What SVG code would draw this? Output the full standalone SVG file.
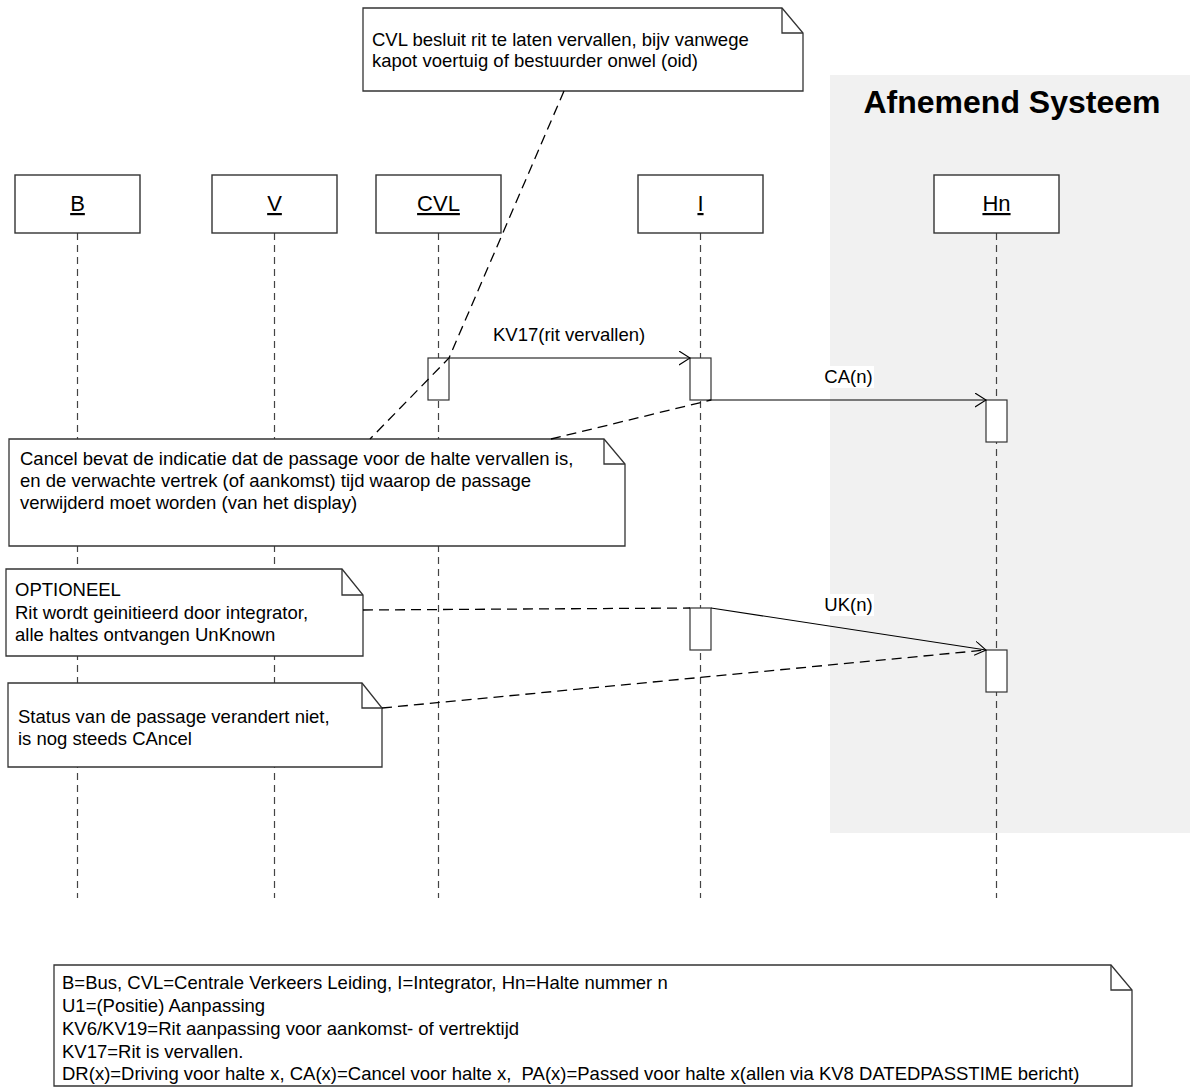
<svg xmlns="http://www.w3.org/2000/svg" width="1190" height="1092" viewBox="0 0 1190 1092">
<defs>
<style>
text{font-family:"Liberation Sans",Arial,sans-serif;fill:#000}
.t{font-size:18.5px}
.lbl{font-size:22px;text-decoration:underline}
.big{font-size:32px;font-weight:bold}
.box{fill:#fff;stroke:#333;stroke-width:1.4}
.note{fill:#fff;stroke:#333;stroke-width:1.3}
.fold{fill:none;stroke:#333;stroke-width:1.3}
.act{fill:#fff;stroke:#333;stroke-width:1.2}
.life{stroke:#444;stroke-width:1.2;stroke-dasharray:7 5;fill:none}
.msg{stroke:#000;stroke-width:1.1;fill:none}
.anc{stroke:#000;stroke-width:1.3;stroke-dasharray:10 6;fill:none}
</style>
<marker id="arr" markerUnits="userSpaceOnUse" markerWidth="14" markerHeight="16" refX="11" refY="7" orient="auto">
<path d="M0,0 L11,7 L0,14" fill="none" stroke="#000" stroke-width="1.1"/>
</marker>
</defs>
<rect width="1190" height="1092" fill="#fff"/>
<g id="afnemend-systeem">
<rect x="830" y="75" width="360" height="758" fill="#f1f1f1"/>
<text class="big" x="1012" y="113" text-anchor="middle">Afnemend Systeem</text>
</g>
<g id="lifelines">
<line class="life" x1="77.5" y1="233" x2="77.5" y2="898"/>
<line class="life" x1="274.5" y1="233" x2="274.5" y2="898"/>
<line class="life" x1="438.5" y1="233" x2="438.5" y2="898"/>
<line class="life" x1="700.5" y1="233" x2="700.5" y2="898"/>
<line class="life" x1="996.5" y1="233" x2="996.5" y2="898"/>
</g>
<g id="B"><rect class="box" x="15" y="175" width="125" height="58"/><text class="lbl" x="77.5" y="211" text-anchor="middle">B</text></g>
<g id="V"><rect class="box" x="212" y="175" width="125" height="58"/><text class="lbl" x="274.5" y="211" text-anchor="middle">V</text></g>
<g id="CVL"><rect class="box" x="376" y="175" width="125" height="58"/><text class="lbl" x="438.5" y="211" text-anchor="middle">CVL</text></g>
<g id="I"><rect class="box" x="638" y="175" width="125" height="58"/><text class="lbl" x="700.5" y="211" text-anchor="middle">I</text></g>
<g id="Hn"><rect class="box" x="934" y="175" width="125" height="58"/><text class="lbl" x="996.5" y="211" text-anchor="middle">Hn</text></g>
<g id="activations">
<rect class="act" x="428" y="358" width="21" height="42"/>
<rect class="act" x="690" y="358" width="21" height="42"/>
<rect class="act" x="986" y="400" width="21" height="42"/>
<rect class="act" x="690" y="608" width="21" height="42"/>
<rect class="act" x="986" y="650" width="21" height="42"/>
</g>
<g id="note-cvl">
<path class="note" d="M363,8 H782 L803,33 V91 H363 Z"/>
<path class="fold" d="M782,8 V33 H803"/>
<text class="t" x="372" y="46">CVL besluit rit te laten vervallen, bijv vanwege</text>
<text class="t" x="372" y="67">kapot voertuig of bestuurder onwel (oid)</text>
</g>
<g id="note-cancel">
<path class="note" d="M9,439 H604 L625,464 V546 H9 Z"/>
<path class="fold" d="M604,439 V464 H625"/>
<text class="t" x="20" y="465">Cancel bevat de indicatie dat de passage voor de halte vervallen is,</text>
<text class="t" x="20" y="487">en de verwachte vertrek (of aankomst) tijd waarop de passage</text>
<text class="t" x="20" y="509">verwijderd moet worden (van het display)</text>
</g>
<g id="note-optioneel">
<path class="note" d="M6,569 H342 L363,595 V656 H6 Z"/>
<path class="fold" d="M342,569 V595 H363"/>
<text class="t" x="15" y="596">OPTIONEEL</text>
<text class="t" x="15" y="618.5">Rit wordt geinitieerd door integrator,</text>
<text class="t" x="15" y="641">alle haltes ontvangen UnKnown</text>
</g>
<g id="note-status">
<path class="note" d="M8,683 H362 L382,708 V767 H8 Z"/>
<path class="fold" d="M362,683 V708 H382"/>
<text class="t" x="18" y="723">Status van de passage verandert niet,</text>
<text class="t" x="18" y="745">is nog steeds CAncel</text>
</g>
<g id="legend">
<path class="note" d="M54,965 H1111 L1132,990 V1086 H54 Z"/>
<path class="fold" d="M1111,965 V990 H1132"/>
<text class="t" x="62" y="989">B=Bus, CVL=Centrale Verkeers Leiding, I=Integrator, Hn=Halte nummer n</text>
<text class="t" x="62" y="1012">U1=(Positie) Aanpassing</text>
<text class="t" x="62" y="1035">KV6/KV19=Rit aanpassing voor aankomst- of vertrektijd</text>
<text class="t" x="62" y="1058">KV17=Rit is vervallen.</text>
<text class="t" x="62" y="1080" xml:space="preserve">DR(x)=Driving voor halte x, CA(x)=Cancel voor halte x,  PA(x)=Passed voor halte x(allen via KV8 DATEDPASSTIME bericht)</text>
</g>
<g id="connectors">
<line class="msg" x1="449" y1="358" x2="690" y2="358" marker-end="url(#arr)"/>
<text class="t" x="493" y="341">KV17(rit vervallen)</text>
<line class="msg" x1="711" y1="400" x2="986" y2="400" marker-end="url(#arr)"/>
<rect x="823" y="366" width="51" height="22" fill="#fff"/>
<text class="t" x="848.5" y="383" text-anchor="middle">CA(n)</text>
<line class="msg" x1="711" y1="608" x2="986" y2="650" marker-end="url(#arr)"/>
<rect x="823" y="594" width="51" height="22" fill="#fff"/>
<text class="t" x="848.5" y="611" text-anchor="middle">UK(n)</text>
<polyline class="anc" points="564,91 449,358 370,439"/>
<line class="anc" x1="551" y1="439" x2="711" y2="400"/>
<line class="anc" x1="363" y1="610" x2="690" y2="608"/>
<line class="anc" x1="382" y1="708" x2="986" y2="650"/>
</g>
</svg>
